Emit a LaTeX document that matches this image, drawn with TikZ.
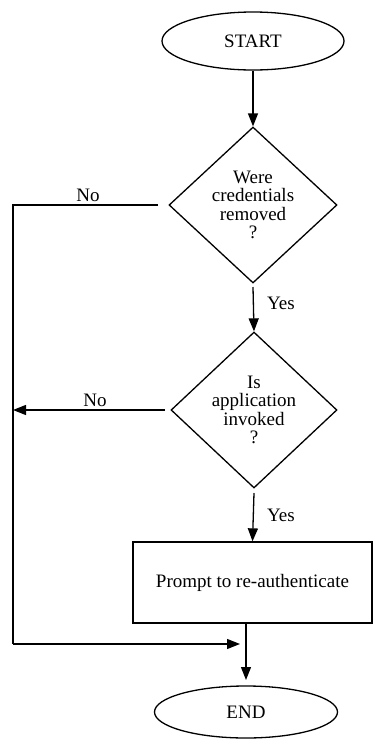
\documentclass[tikz,border=0pt]{standalone}
\usepackage{fontspec}
\setmainfont{Liberation Serif}
\usetikzlibrary{shapes.geometric,arrows.meta}
\begin{document}
\begin{tikzpicture}[x=1pt,y=-1pt,
  every node/.style={font=\fontsize{19}{18.5}\selectfont},
  base/.style={draw=black,line width=1.3pt,inner sep=0pt},
  term/.style={base,ellipse},
  decision/.style={base,diamond,align=center},
  process/.style={base,rectangle},
  arr/.style={line width=1.3pt,-{Triangle[length=13pt,width=10pt]}},
  ln/.style={line width=1.3pt},
  lbl/.style={inner sep=0pt}]
\useasboundingbox (0,0) rectangle (374,740);
\node[term,minimum width=182pt,minimum height=58pt] (start) at (253,41) {START};
\node[decision,minimum width=168pt,minimum height=156pt] (d1) at (253,205) {Were\\credentials\\removed\\?};
\node[decision,minimum width=166pt,minimum height=156pt] (d2) at (254,410) {Is\\application\\invoked\\?};
\node[process,minimum width=239pt,minimum height=81pt] (rect) at (252.5,582.5) {Prompt to re-authenticate};
\node[term,minimum width=183pt,minimum height=52pt] (end) at (246,712) {END};
\coordinate (a1) at (158,205);
\coordinate (L1) at (13,205);
\coordinate (L2) at (13,644);
\coordinate (J) at (240,644);
\coordinate (a2) at (165,410);
\coordinate (L3) at (13,410);
\coordinate (r1) at (246,623);
\coordinate (e1) at (246,680);
\coordinate (b1) at (253,287);
\coordinate (b2) at (254,493);
\draw[arr] (start.south) -- (d1.north);
\draw[arr] (b1) -- (d2.north);
\draw[arr] (b2) -- (rect.north);
\draw[arr] (r1) -- (e1);
\draw[ln] (a1) -- (L1) -- (L2);
\draw[arr] (L2) -- (J);
\draw[arr] (a2) -- (L3);
\node[lbl] (no1) at (88,195) {No};
\node[lbl] (no2) at (95,400) {No};
\node[lbl] (yes1) at (281,303) {Yes};
\node[lbl] (yes2) at (281,515) {Yes};
\end{tikzpicture}
\end{document}
